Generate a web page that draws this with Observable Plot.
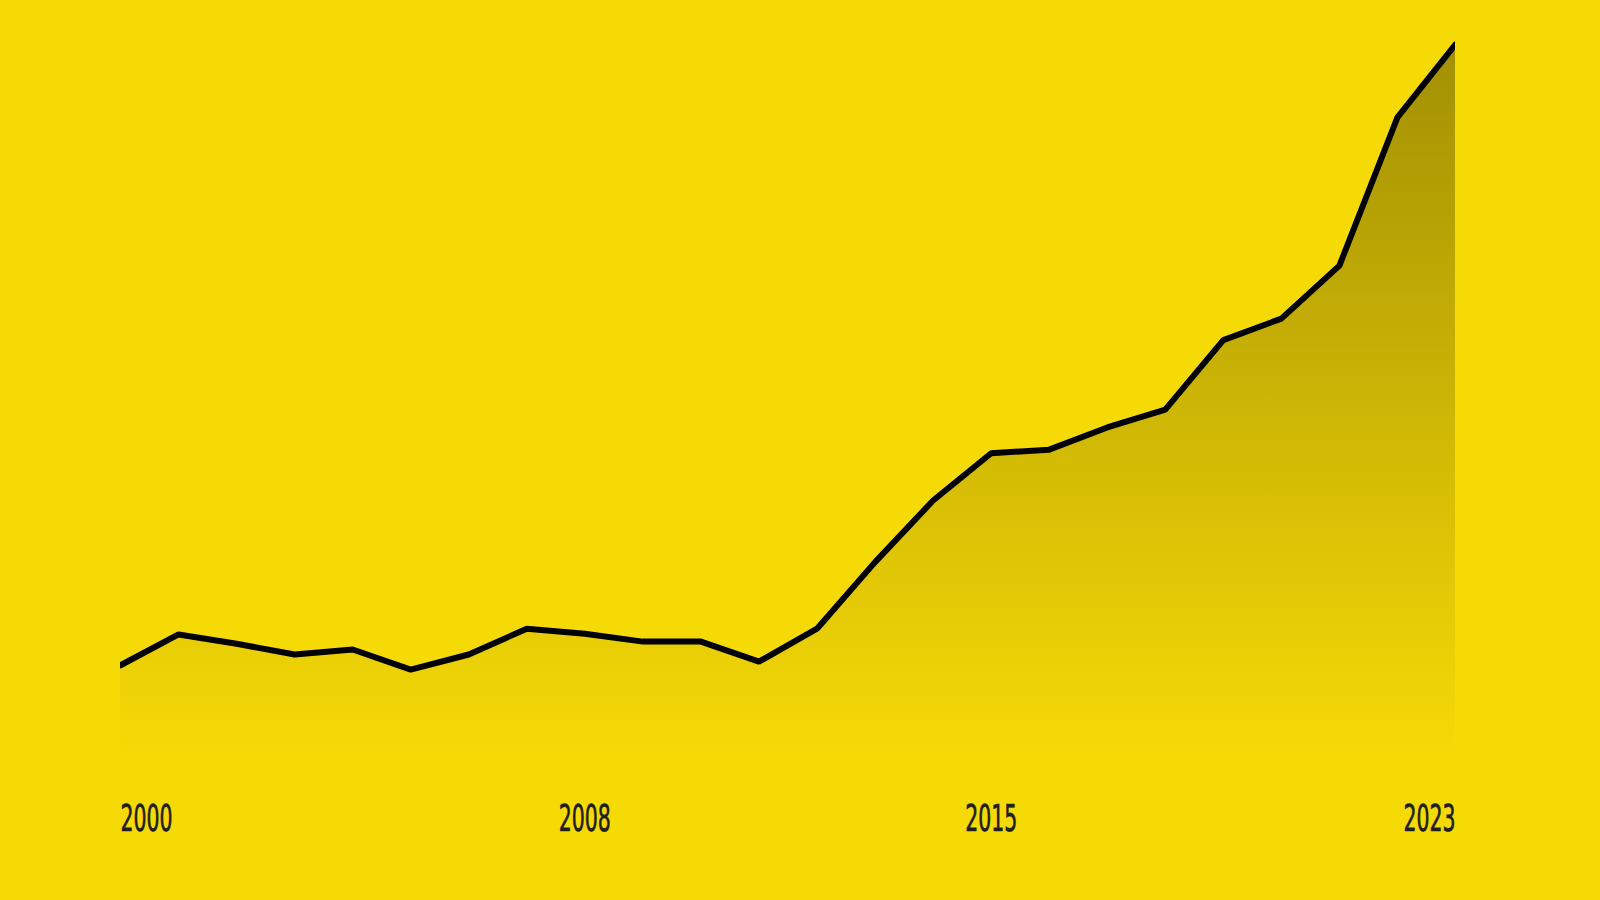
<!DOCTYPE html>
<html>
<head>
<meta charset="utf-8">
<script src="https://cdn.jsdelivr.net/npm/d3@7"></script>
<script src="https://cdn.jsdelivr.net/npm/@observablehq/plot@0.6"></script>
<style>
  html, body { margin: 0; padding: 0; background: #f6da06; overflow: hidden; }
  #chart svg { display: block; }
</style>
</head>
<body>
<div id="chart"></div>
<script>
const years = [2000, 2001, 2002, 2003, 2004, 2005, 2006, 2007, 2008, 2009, 2010, 2011,
               2012, 2013, 2014, 2015, 2016, 2017, 2018, 2019, 2020, 2021, 2022, 2023];
const values = [13.3, 17.6, 16.3, 14.8, 15.5, 12.7, 14.8, 18.4, 17.7, 16.6, 16.6, 13.8,
                18.4, 27.7, 36.3, 42.9, 43.4, 46.5, 49.0, 58.7, 61.7, 69.1, 89.8, 100];
const tickYears = [2000, 2008, 2015, 2023];

const data = years.map((year, i) => ({year, value: values[i]}));
const fmt = d => String(d);
const axisCommon = {tickSize: 0, tickPadding: 44, tickFormat: fmt, fill: "#1e1e1e", label: null};

const chart = Plot.plot({
  width: 1600,
  height: 900,
  marginLeft: 120,
  marginRight: 145,
  marginTop: 8,
  marginBottom: 140,
  style: {background: "#f6da06", fontFamily: "'DejaVu Sans Condensed', 'DejaVu Sans', sans-serif", fontSize: "37px", fontStretch: "condensed"},
  x: {domain: [2000, 2023], label: null},
  y: {domain: [0, 105], axis: null},
  marks: [
    Plot.areaY(data, {x: "year", y: "value", fill: "url(#areaGrad)"}),
    Plot.lineY(data, {x: "year", y: "value", stroke: "#000", strokeWidth: 6, strokeLinejoin: "miter", clip: "frame"}),
    Plot.axisX({...axisCommon, ticks: [tickYears[0]], textAnchor: "start"}),
    Plot.axisX({...axisCommon, ticks: tickYears.slice(1, -1), textAnchor: "middle"}),
    Plot.axisX({...axisCommon, ticks: [tickYears[tickYears.length - 1]], textAnchor: "end"})
  ]
});

const svg = d3.select(chart);
const defs = svg.insert("defs", ":first-child");
const grad = defs.append("linearGradient")
  .attr("id", "areaGrad")
  .attr("x1", 0).attr("y1", 0).attr("x2", 0).attr("y2", 1);
grad.append("stop").attr("offset", "0%").attr("stop-color", "#000").attr("stop-opacity", 0.34);
grad.append("stop").attr("offset", "100%").attr("stop-color", "#000").attr("stop-opacity", 0);

// narrow, slightly heavier tick labels
svg.selectAll("g[aria-label='x-axis tick label'] text")
  .attr("textLength", 52)
  .attr("lengthAdjust", "spacingAndGlyphs")
  .attr("stroke", "#1e1e1e")
  .attr("stroke-width", 0.7);

document.getElementById("chart").appendChild(chart);
</script>
</body>
</html>
